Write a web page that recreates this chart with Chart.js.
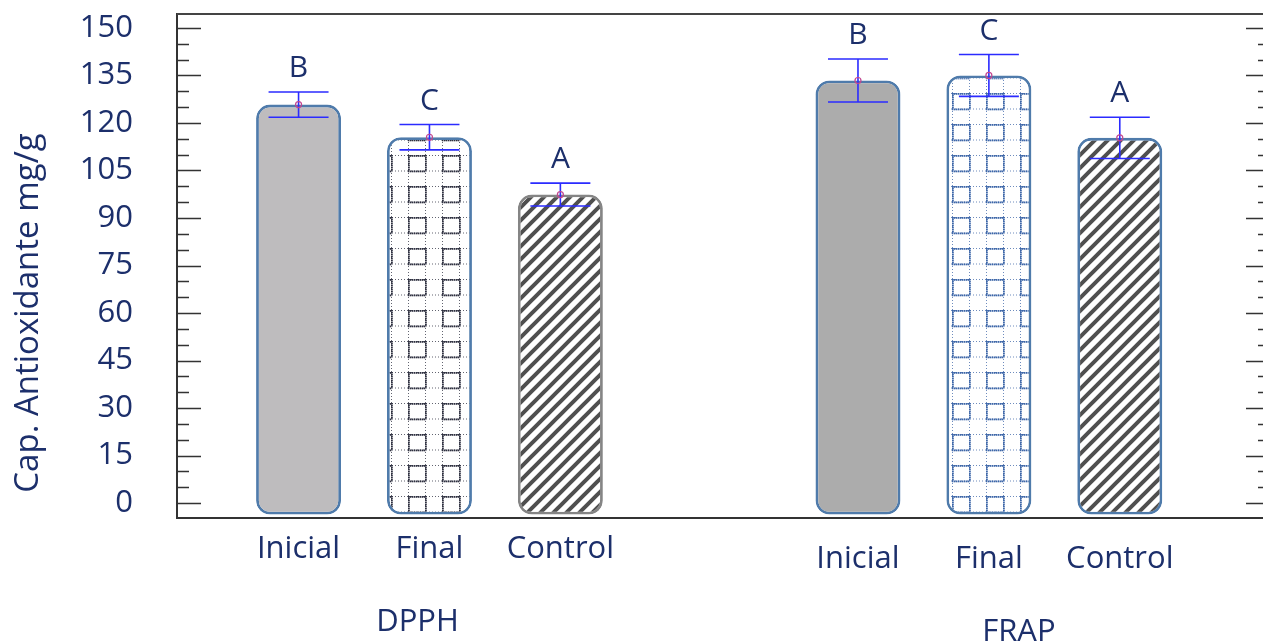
<!DOCTYPE html>
<html>
<head>
<meta charset="utf-8">
<script src="https://cdn.jsdelivr.net/npm/chart.js@4.4.1/dist/chart.umd.min.js"></script>
<style>
  html, body { margin: 0; padding: 0; background: #fff; }
  #wrap { width: 1263px; height: 641px; position: relative; }
</style>
</head>
<body>
<div id="wrap"><canvas id="capChart"></canvas></div>
<script>
// --- data ---
const groups = ['DPPH', 'FRAP'];
const treatments = ['Inicial', 'Final', 'Control'];
const dpphMean = [125.8, 115.5, 97.4];
const dpphErr = [4.0, 4.0, 3.6];
const frapMean = [133.4, 135.0, 115.3];
const frapErr = [6.8, 6.6, 6.5];
const letters = ['B', 'C', 'A'];
const yTicks = [0, 15, 30, 45, 60, 75, 90, 105, 120, 135, 150];
const yTickLabels = ['0', '15', '30', '45', '60', '75', '90', '105', '120', '135', '150'];
const yTitle = 'Cap. Antioxidante mg/g';

const means = [dpphMean, frapMean];
const errs = [dpphErr, frapErr];

const NAVY = '#1c2f6b';
const FONT = '"Open Sans", "Noto Sans", sans-serif';

// --- fill patterns ---
function gridPattern(color) {
    const w = 34, h = 31, cw = 17, ch = 15.5;
    const c = document.createElement('canvas');
    c.width = w; c.height = h;
    const g = c.getContext('2d');
    g.fillStyle = '#fff';
    g.fillRect(0, 0, w, h);
    g.fillStyle = color;
    // light dotted grid
    g.globalAlpha = 0.75;
    for (let x = 0; x < w; x += 3) { g.fillRect(x, 0, 1, 1); g.fillRect(x, ch, 1, 1); }
    for (let y = 0; y < h; y += 3) { g.fillRect(0, y, 1, 1); g.fillRect(cw, y, 1, 1); }
    // heavier dotted square on one cell
    g.globalAlpha = 1;
    for (let x = 0; x <= cw; x += 2) { g.fillRect(x, 0, 1.5, 1.8); g.fillRect(x, ch, 1.5, 1.8); }
    for (let y = 0; y <= ch; y += 2) { g.fillRect(0, y, 1.8, 1.5); g.fillRect(cw, y, 1.8, 1.5); }
    return g.createPattern(c, 'repeat');
}

function stripePattern(color) {
    const s = 13;
    const c = document.createElement('canvas');
    c.width = s; c.height = s;
    const g = c.getContext('2d');
    g.fillStyle = '#fff';
    g.fillRect(0, 0, s, s);
    g.strokeStyle = color;
    g.lineWidth = 4;
    g.beginPath();
    g.moveTo(-2, s + 2); g.lineTo(s + 2, -2);
    g.moveTo(-3, 3); g.lineTo(3, -3);
    g.moveTo(s - 3, s + 3); g.lineTo(s + 3, s - 3);
    g.stroke();
    return g.createPattern(c, 'repeat');
}

const fills = [
    ['#bebcbe', '#acacac'],
    [gridPattern('#2e3040'), gridPattern('#3d66a8')],
    [stripePattern('#4f4f4f'), stripePattern('#4f4f4f')]
];
const edges = [
    ['#4f7bab', '#4f7bab'],
    ['#4f7bab', '#4f7bab'],
    ['#858585', '#4f7bab']
];
const groupLabelShift = [-12, 30];
const groupRowDrop = [0, 10];

// --- error bars, letters, frame, labels ---
const decor = {
    id: 'decor',
    afterDatasetsDraw(chart) {
        const { ctx } = chart;
        const y = chart.scales.y;
        chart.data.datasets.forEach((ds, ti) => {
            chart.getDatasetMeta(ti).data.forEach((bar, gi) => {
                const m = means[gi][ti], e = errs[gi][ti];
                const yHi = y.getPixelForValue(m + e), yLo = y.getPixelForValue(m - e);
                ctx.save();
                ctx.strokeStyle = '#2b2bff';
                ctx.lineWidth = 1.6;
                ctx.beginPath();
                ctx.moveTo(bar.x, yHi); ctx.lineTo(bar.x, yLo);
                ctx.moveTo(bar.x - 30, yHi); ctx.lineTo(bar.x + 30, yHi);
                ctx.moveTo(bar.x - 30, yLo); ctx.lineTo(bar.x + 30, yLo);
                ctx.stroke();
                ctx.strokeStyle = '#c2468f';
                ctx.lineWidth = 1.2;
                ctx.beginPath();
                ctx.arc(bar.x, y.getPixelForValue(m), 3, 0, Math.PI * 2);
                ctx.stroke();
                ctx.fillStyle = NAVY;
                ctx.font = '30px ' + FONT;
                ctx.textAlign = 'center';
                ctx.textBaseline = 'alphabetic';
                ctx.fillText(letters[ti], bar.x, yHi - 15);
                ctx.restore();
            });
        });
    },
    afterDraw(chart) {
        const { ctx, chartArea } = chart;
        const y = chart.scales.y;
        ctx.save();
        // top frame line
        ctx.strokeStyle = '#444';
        ctx.lineWidth = 2;
        ctx.beginPath();
        ctx.moveTo(chartArea.left, chartArea.top);
        ctx.lineTo(chartArea.right, chartArea.top);
        ctx.stroke();
        // inward ticks, left and right
        const rx = chartArea.right + 7;
        ctx.strokeStyle = '#333';
        ctx.lineWidth = 1.5;
        ctx.beginPath();
        for (let v = 0; v <= 150; v += 5) {
            const py = Math.round(y.getPixelForValue(v)) + 0.5;
            const len = v % 15 === 0 ? 24 : 12;
            ctx.moveTo(chartArea.left, py); ctx.lineTo(chartArea.left + len, py);
            ctx.moveTo(rx - len, py); ctx.lineTo(rx, py);
        }
        ctx.stroke();
        // category and group labels
        ctx.fillStyle = NAVY;
        ctx.textAlign = 'center';
        ctx.textBaseline = 'alphabetic';
        groups.forEach((g, gi) => {
            ctx.font = '31px ' + FONT;
            treatments.forEach((t, ti) => {
                const bar = chart.getDatasetMeta(ti).data[gi];
                ctx.fillText(t, bar.x, chartArea.bottom + 40 + groupRowDrop[gi]);
            });
            const mid = chart.getDatasetMeta(1).data[gi];
            ctx.fillText(g, mid.x + groupLabelShift[gi], chartArea.bottom + 113 + groupRowDrop[gi]);
        });
        // y title
        ctx.translate(38, 313);
        ctx.rotate(-Math.PI / 2);
        ctx.font = '33px ' + FONT;
        ctx.fillText(yTitle, 0, 0);
        ctx.restore();
    }
};

const ctx = document.getElementById('capChart').getContext('2d');

const capChart = new Chart(ctx, {
    type: 'bar',
    data: {
        datasets: treatments.map((t, ti) => ({
            label: t,
            data: groups.map((g, gi) => ({ x: gi + 1, y: means[gi][ti] })),
            backgroundColor: fills[ti],
            borderColor: edges[ti],
            borderWidth: 2.8,
            borderRadius: 14,
            borderSkipped: false,
            base: -3.6,
            categoryPercentage: 0.702,
            barPercentage: 0.649
        }))
    },
    options: {
        responsive: true, maintainAspectRatio: false, animation: false,
        layout: { padding: { top: 14, left: 0, right: 0, bottom: 0 } },
        plugins: { legend: { display: false }, tooltip: { enabled: false } },
        scales: {
            x: {
                type: 'linear', min: 0.5487, max: 2.490, offset: false,
                afterBuildTicks: s => { s.ticks = groups.map((g, i) => ({ value: i + 1 })); },
                afterFit: s => { s.height = 123; s.paddingLeft = 0; s.paddingRight = 0; },
                ticks: { display: false },
                grid: { display: false },
                border: { display: true, color: '#333', width: 2 }
            },
            y: {
                min: -4.7, max: 154.4,
                afterBuildTicks: s => { s.ticks = yTicks.map(v => ({ value: v })); },
                afterFit: s => { s.width = 177; s.paddingTop = 0; s.paddingBottom = 0; },
                ticks: {
                    padding: 44, color: NAVY,
                    font: { family: FONT, size: 31 },
                    callback: (v, i) => yTickLabels[i]
                },
                grid: { display: false, drawTicks: false },
                border: { display: true, color: '#333', width: 2 }
            }
        }
    },
    plugins: [decor]
});
</script>
</body>
</html>
